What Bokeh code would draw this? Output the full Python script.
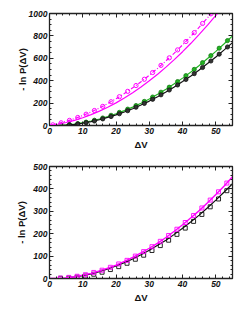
from bokeh.plotting import figure
from bokeh.layouts import column
from bokeh.models import Range1d, LinearAxis, SingleIntervalTicker, CustomJSTickFormatter
from bokeh.embed import file_html
from bokeh.resources import INLINE

# ---------------- data ----------------
XL = [0, 2.5, 5, 7.5, 10, 12.5, 15, 17.5, 20, 22.5, 25, 27.5, 30, 32.5, 35,
      37.5, 40, 42.5, 45, 47.5, 50, 52.5, 55]

# top panel lines
top_mag_solid = [0, 11, 27, 46, 69, 97, 128, 163, 202, 245, 293, 344, 399, 458,
                 521, 588, 659, 734, 813, 896, 983, 1073, 1168]
top_mag_dash = [0, 17, 37, 61, 89, 121, 156, 196, 239, 285, 336, 391, 449, 511,
                577, 646, 720, 797, 878, 962, 1051, 1140, 1235]
top_green = [0, 1, 5, 13, 25, 40, 58, 80, 105, 133, 164, 199, 237, 279, 324,
             372, 423, 478, 536, 598, 662, 730, 800]
top_black = [0, 0, 3, 10, 20, 34, 51, 72, 95, 121, 150, 183, 218, 257, 299,
             344, 392, 442, 496, 553, 612, 675, 740]

# top panel markers
XM_top = [1, 3.5, 6, 8.5, 11, 13.5, 16, 18.5, 21, 23.5, 26, 28.5, 31, 33.5, 36,
          38.5, 41, 43.5, 46, 48.5]
top_mag_pts = [6, 24, 46, 72, 101, 134, 171, 212, 257, 305, 357, 413, 473, 537,
               604, 675, 750, 829, 911, 997]
XM_top2 = [6, 8.5, 11, 13.5, 16, 18.5, 21, 23.5, 26, 28.5, 31, 33.5, 36, 38.5,
           41, 43.5, 46, 48.5, 51, 53.5]
top_green_pts = [7, 16, 30, 47, 67, 91, 117, 146, 178, 215, 254, 297, 342, 392,
                 445, 501, 561, 624, 690, 758]
top_black_pts = [5, 14, 25, 40, 59, 80, 105, 132, 163, 197, 234, 274, 317, 362,
                 411, 463, 518, 576, 637, 701]

# bottom panel lines
bot_mag = [0, 0, 3, 8, 15, 23, 34, 46, 60, 76, 94, 114, 135, 158, 183, 211,
           240, 271, 303, 338, 375, 413, 454]
bot_black = [0, 0, 2, 7, 13, 21, 31, 43, 56, 71, 87, 106, 126, 148, 171, 197,
             224, 253, 283, 316, 350, 386, 423]

# bottom panel markers
XM_bot = [3.3, 5.8, 8.3, 10.8, 13.3, 15.8, 18.3, 20.8, 23.3, 25.8, 28.3, 30.8,
          33.3, 35.8, 38.3, 40.8, 43.3, 45.8, 48.3, 50.8, 53.3]
bot_mag_pts = [2, 5, 10, 17, 27, 37, 50, 65, 81, 100, 120, 142, 166, 192, 220,
               250, 281, 315, 350, 387, 426]
bot_black_pts = [1, 2, 6, 11, 19, 28, 40, 53, 68, 86, 104, 125, 147, 171, 197,
                 225, 255, 286, 320, 355, 392]

X_RANGE = (0, 55)
TOP_Y = (0, 1000)
BOT_Y = (0, 500)

MAG = "#ff00ff"
GREEN = "#22b422"
BLACK = "#111111"

TICK_FONT = "Liberation Sans"


def style(p, y_interval, y_minor, label_standoff):
    p.xgrid.visible = False
    p.ygrid.visible = False
    p.outline_line_color = "#222222"
    p.outline_line_width = 1.3
    p.background_fill_color = "white"
    p.border_fill_color = "white"
    xt = SingleIntervalTicker(interval=10, num_minor_ticks=5)
    yt = SingleIntervalTicker(interval=y_interval, num_minor_ticks=y_minor)
    p.xaxis.ticker = xt
    p.yaxis.ticker = yt
    for ax in (p.xaxis[0], p.yaxis[0]):
        ax.major_tick_in = 4
        ax.major_tick_out = 0
        ax.minor_tick_in = 2
        ax.minor_tick_out = 0
        ax.axis_line_color = "#222222"
        ax.major_tick_line_color = "#222222"
        ax.minor_tick_line_color = "#222222"
        ax.major_label_text_font = TICK_FONT
        ax.major_label_text_font_style = "bold italic"
        ax.major_label_text_font_size = "8.5px"
        ax.major_label_text_color = "#111111"
        ax.axis_label_text_font = TICK_FONT
        ax.axis_label_text_font_style = "bold"
        ax.axis_label_text_font_size = "9.5px"
        ax.axis_label_text_color = "#111111"
        ax.major_label_standoff = 2
    p.xaxis.axis_label = "ΔV"
    p.xaxis.axis_label_standoff = 2
    p.yaxis.axis_label = "- ln P(ΔV)"
    p.yaxis.axis_label_standoff = label_standoff
    for loc, tk in (("above", xt), ("right", yt)):
        ax = LinearAxis(ticker=tk, formatter=CustomJSTickFormatter(code="return ''"))
        ax.major_label_text_font_size = "1px"
        ax.major_label_standoff = 0
        ax.major_tick_in = 4
        ax.major_tick_out = 0
        ax.minor_tick_in = 2
        ax.minor_tick_out = 0
        ax.axis_line_color = "#222222"
        ax.major_tick_line_color = "#222222"
        ax.minor_tick_line_color = "#222222"
        p.add_layout(ax, loc)


# ---------------- top panel ----------------
p1 = figure(width=241, height=158, output_backend="svg", toolbar_location=None,
            x_range=Range1d(*X_RANGE), y_range=Range1d(*TOP_Y),
            min_border_left=49, min_border_right=9, min_border_top=13,
            min_border_bottom=33)
style(p1, 200, 4, -2)
p1.line(XL, top_mag_solid, line_color=MAG, line_width=1.2)
p1.line(XL, top_mag_dash, line_color=MAG, line_width=1.2, line_dash="4 2 1 2")
p1.scatter(XM_top, top_mag_pts, marker="circle", size=4.2, fill_color=None,
           line_color=MAG, line_width=1)
p1.line(XL, top_green, line_color=GREEN, line_width=1.2)
p1.scatter(XM_top2, top_green_pts, marker="circle", size=4.2, fill_color=GREEN,
           line_color="#147a14", line_width=0.8)
p1.line(XL, top_black, line_color=BLACK, line_width=1.2)
p1.scatter(XM_top2, top_black_pts, marker="circle", size=4.2, fill_color="#333333",
           line_color=BLACK, line_width=0.8)

# ---------------- bottom panel ----------------
p2 = figure(width=241, height=150, output_backend="svg", toolbar_location=None,
            x_range=Range1d(*X_RANGE), y_range=Range1d(*BOT_Y),
            min_border_left=49, min_border_right=9, min_border_top=8,
            min_border_bottom=30)
style(p2, 100, 5, 3)
p2.line(XL, bot_black, line_color=BLACK, line_width=1.2)
p2.scatter(XM_bot, bot_black_pts, marker="square", size=4, fill_color=None,
           line_color=BLACK, line_width=0.9)
p2.line(XL, bot_mag, line_color=MAG, line_width=1.4)
p2.scatter(XM_bot, bot_mag_pts, marker="square", size=4, fill_color=None,
           line_color=MAG, line_width=0.9)

layout = column(p1, p2, spacing=0)
open("out.html", "w").write(file_html(layout, INLINE))
